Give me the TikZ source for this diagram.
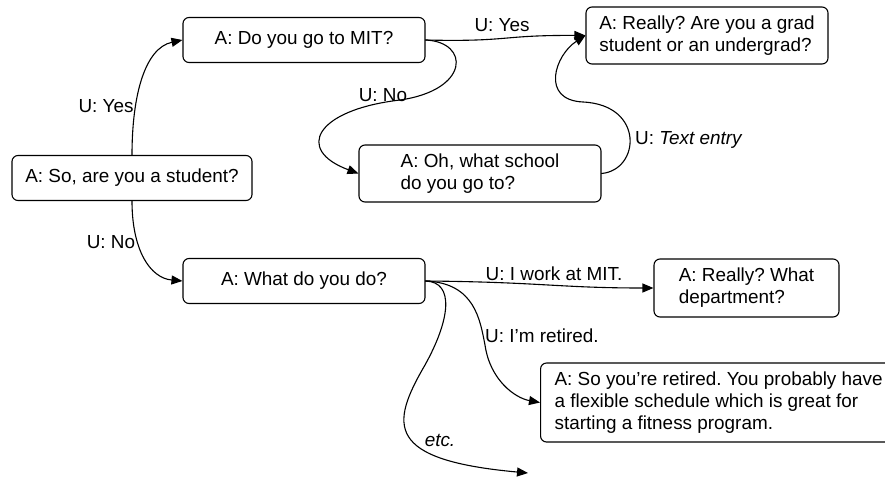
\documentclass[tikz,border=0pt]{standalone}
\usepackage{fontspec}
\setmainfont{Liberation Sans}
\frenchspacing
\usetikzlibrary{arrows.meta}

\begin{document}
\begin{tikzpicture}[x=1pt, y=-1pt, >={Triangle[length=11pt,width=9pt]}, line cap=round, line join=round,
		every node/.style={font=\fontsize{18.9}{22}\selectfont},
		box/.style={draw, line width=1.1pt, rounded corners=6pt, align=left, inner sep=0pt},
		lbl/.style={inner sep=0pt},
		link/.style={->, line width=1.1pt}]
		
		\useasboundingbox (0,0) rectangle (885,479);
		\clip (0,0) rectangle (885,479);
		
		% --- Agent prompts ---
		\node[box, minimum width=240pt, minimum height=45pt] (student) at (132,178) {A: So, are you a student?};
		\node[box, minimum width=242pt, minimum height=45pt] (mit) at (304,40) {A: Do you go to MIT?};
		\node[box, minimum width=242pt, minimum height=57pt] (grad) at (707,35.5) {A: Really? Are you a grad\\student or an undergrad?};
		\node[box, minimum width=242pt, minimum height=57pt] (school) at (480,173.5) {A: Oh, what school\\do you go to?};
		\node[box, minimum width=242pt, minimum height=45pt] (whatdo) at (304,281) {A: What do you do?};
		\node[box, minimum width=185pt, minimum height=58pt] (dept) at (746.5,288) {A: Really? What\\department?};
		\node[box, anchor=west, inner xsep=14pt, minimum height=79pt] (retired) at (540,402.5)
			{A: So you’re retired. You probably have\\a flexible schedule which is great for\\starting a fitness program.};
		\coordinate (etcend) at (528,473);
		
		% --- User answers ---
		\draw[link] (student.north) .. controls (132,95) and (145,48) .. (mit.west);
		\node[lbl] (lyes) at (106,106) {U: Yes};
		
		\draw[link] (student.south) .. controls (132,250) and (150,278) .. (whatdo.west);
		\node[lbl] (lno) at (111,242) {U: No};
		
		\draw[link] (mit.east) .. controls (510,42) and (500,35) .. (grad.west);
		\node[lbl] (lyes2) at (502,25) {U: Yes};
		
		\draw[link] (mit.east) .. controls (470,42) and (470,90) .. (400,100)
			.. controls (315,110) and (295,150) .. (school.west);
		\node[lbl] (lno2) at (383,95) {U: No};
		
		\draw[link] (school.east) .. controls (640,170) and (645,105) .. (583,102)
			.. controls (540,100) and (555,55) .. (grad.west);
		\node[lbl, anchor=west] (lentry) at (635,140) {U: \textit{Text entry}};
		
		\draw[link] (whatdo.east) .. controls (540,282) and (560,288) .. (dept.west);
		\node[lbl] (lwork) at (554,274) {U: I work at MIT.};
		
		\draw[link] (whatdo.east) .. controls (475,283) and (480,320) .. (485,345)
			.. controls (490,380) and (515,398) .. (retired.west);
		\node[lbl, anchor=west] (lretired) at (485,336) {U: I’m retired.};
		
		\draw[link] (whatdo.east) .. controls (455,282) and (450,320) .. (425,365)
			.. controls (390,425) and (385,460) .. (etcend);
		\node[lbl] (letc) at (440,440) {\textit{etc.}};
		
	\end{tikzpicture}
\end{document}
